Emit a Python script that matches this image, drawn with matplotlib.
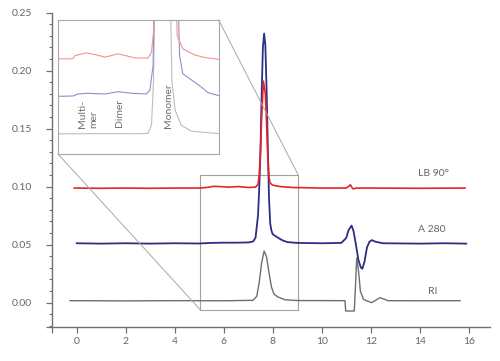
import matplotlib
matplotlib.use("Agg")
import matplotlib.pyplot as plt
from matplotlib.patches import Rectangle, ConnectionPatch

plt.rcParams['font.family'] = ['Lato', 'DejaVu Sans']

# ---- main traces (elution time, signal) ----
lb_x = [-0.1, 1, 2, 3, 4, 5, 5.3, 5.6, 5.9, 6.2, 6.6, 7.0, 7.3, 7.4, 7.45, 7.5, 7.55, 7.62, 7.7,
        7.75, 7.8, 7.85, 7.9, 8.0, 8.3, 8.8, 10, 11.0, 11.1, 11.17, 11.25, 11.3, 11.4, 12, 14, 15.85]
lb_y = [0.0988, 0.0986, 0.0988, 0.0986, 0.0988, 0.0988, 0.0993, 0.1003, 0.1000, 0.0996, 0.1001,
        0.0993, 0.0996, 0.1020, 0.1100, 0.1300, 0.1600, 0.1910, 0.1800, 0.1550, 0.1250, 0.1080,
        0.1030, 0.1013, 0.1001, 0.0993, 0.0988, 0.0988, 0.1003, 0.1016, 0.0988, 0.0980, 0.0988,
        0.0988, 0.0986, 0.0988]

a_x = [0.0, 1.0, 2.0, 3.0, 4.0, 5.0, 5.5, 6.0, 6.5, 7.0, 7.2, 7.3, 7.4, 7.45, 7.5, 7.55, 7.6,
       7.65, 7.7, 7.75, 7.8, 7.85, 7.9, 7.95, 8.0, 8.2, 8.4, 8.6, 9.0, 10.0, 10.8, 11.0, 11.1,
       11.22, 11.3, 11.4, 11.5, 11.6, 11.66, 11.75, 11.85, 11.95, 12.04, 12.2, 12.5, 14, 15, 15.9]
a_y = [0.0512, 0.0509, 0.0512, 0.0509, 0.0512, 0.0510, 0.0515, 0.0517, 0.0517, 0.0519, 0.0527,
       0.0560, 0.0750, 0.0980, 0.1300, 0.1800, 0.2200, 0.2320, 0.2220, 0.1850, 0.1350, 0.0900,
       0.0680, 0.0620, 0.0590, 0.0562, 0.0537, 0.0522, 0.0515, 0.0512, 0.0515, 0.0557, 0.0627,
       0.0664, 0.0617, 0.0497, 0.0367, 0.0302, 0.0292, 0.0357, 0.0477, 0.0525, 0.0539, 0.0525,
       0.0512, 0.0509, 0.0512, 0.0509]

ri_x = [-0.27, 2, 4, 6, 7.2, 7.35, 7.45, 7.55, 7.65, 7.75, 7.85, 7.95, 8.05, 8.2, 8.5, 9, 10.95,
        10.98, 11.33, 11.37, 11.43, 11.5, 11.58, 11.7, 11.85, 12.04, 12.2, 12.38, 12.55, 12.7, 14, 15.65]
ri_y = [0.0017, 0.0015, 0.0017, 0.0016, 0.0020, 0.0055, 0.0175, 0.0345, 0.0445, 0.0395, 0.0255,
        0.0135, 0.0075, 0.0050, 0.0025, 0.0018, 0.0017, -0.0072, -0.0072, 0.0100, 0.0385, 0.0280,
        0.0100, 0.0030, 0.0015, 0.0000, 0.0020, 0.0043, 0.0030, 0.0017, 0.0016, 0.0017]

trace_labels = ['LB 90°', 'A 280', 'RI']
label_pos_x = [13.93, 13.93, 14.35]
label_pos_y = [0.111, 0.063, 0.0095]

# ---- inset (magnified, relative units) ----
in_lb_x = [5.05, 5.42, 5.47, 5.76, 6.01, 6.22, 6.55, 6.96, 7.29, 7.38, 7.43, 7.47, 7.97, 8.02,
           8.16, 8.45, 8.70, 9.05]
in_lb_y = [0.709, 0.709, 0.733, 0.753, 0.738, 0.721, 0.746, 0.716, 0.714, 0.758, 0.906, 1.5,
           1.5, 0.880, 0.783, 0.738, 0.719, 0.705]
in_a_x = [5.05, 5.18, 5.43, 5.55, 5.80, 6.22, 6.55, 6.88, 7.25, 7.34, 7.42, 7.47, 8.02, 8.08,
          8.16, 8.37, 8.62, 8.79, 9.05]
in_a_y = [0.430, 0.430, 0.432, 0.447, 0.452, 0.447, 0.464, 0.452, 0.447, 0.474, 0.659, 1.5,
          1.5, 0.733, 0.598, 0.553, 0.499, 0.457, 0.435]
in_ri_x = [5.05, 6.0, 7.0, 7.29, 7.38, 7.43, 7.48, 7.83, 7.89, 7.97, 8.12, 8.37, 9.05]
in_ri_y = [0.150, 0.152, 0.151, 0.153, 0.215, 0.536, 1.5, 1.5, 0.536, 0.326, 0.215, 0.170, 0.152]

inset_labels = ['Multi-\nmer', 'Dimer', 'Monomer']
inset_lab_x = [5.80, 6.59, 7.81]
inset_lab_y = [0.19, 0.20, 0.19]

zoom_x = (5.05, 9.05)
zoom_y = (-0.0063, 0.1098)

# ---- figure ----
fig = plt.figure(figsize=(5.0, 3.61), dpi=100)
ax = fig.add_axes([0.1044, 0.0942, 0.8756, 0.8706])

c_red, c_blue, c_gray = '#e3262b', '#2e2d86', '#6e6e6e'
ax.plot(ri_x, ri_y, color=c_gray, lw=1.0)
ax.plot(a_x, a_y, color=c_blue, lw=1.3)
ax.plot(lb_x, lb_y, color=c_red, lw=1.2)

for t, x, y in zip(trace_labels, label_pos_x, label_pos_y):
    ax.text(x, y, t, color='#666666', fontsize=7.5, ha='left', va='center')

ax.set_xlim(-1, 16.87)
ax.set_ylim(-0.021, 0.25)
ax.set_xticks([-1] + list(range(0, 17, 2)))
ax.set_xticklabels([''] + [str(v) for v in range(0, 17, 2)])
yt = [-0.021, 0.0, 0.05, 0.10, 0.15, 0.20, 0.25]
ax.set_yticks(yt)
ax.set_yticklabels([''] + ['%.2f' % v for v in yt[1:]])
ax.set_yticks([v / 100 for v in range(-2, 25) if v % 5 != 0], minor=True)
for s in ['top', 'right']:
    ax.spines[s].set_visible(False)
for s in ['left', 'bottom']:
    ax.spines[s].set_color('#707070')
    ax.spines[s].set_linewidth(1.0)
ax.tick_params(axis='x', which='major', direction='out', length=4.5, width=0.9,
               color='#707070', labelcolor='#666666', labelsize=7.5, pad=3)
ax.tick_params(axis='y', which='major', direction='out', length=4.5, width=0.9,
               color='#707070', labelcolor='#666666', labelsize=7.5, pad=10)
ax.tick_params(axis='y', which='minor', direction='out', length=2.5, width=0.8, color='#707070')

# zoom rectangle
rect = Rectangle((zoom_x[0], zoom_y[0]), zoom_x[1] - zoom_x[0], zoom_y[1] - zoom_y[0],
                 fill=False, edgecolor='#a0a0a0', lw=0.8)
ax.add_patch(rect)

# inset
axi = fig.add_axes([0.116, 0.5734, 0.321, 0.3720])
axi.plot(in_ri_x, in_ri_y, color='#bdbdbd', lw=0.8)
axi.plot(in_a_x, in_a_y, color='#8f8fcc', lw=0.8)
axi.plot(in_lb_x, in_lb_y, color='#f29393', lw=0.8)
axi.set_xlim(*zoom_x)
axi.set_ylim(0, 1)
axi.set_xticks([])
axi.set_yticks([])
for s in axi.spines.values():
    s.set_color('#a8a8a8')
    s.set_linewidth(0.8)
for t, x, y in zip(inset_labels, inset_lab_x, inset_lab_y):
    axi.text(x, y, t, rotation=90, color='#707070', fontsize=7.5, ha='center', va='bottom',
             multialignment='left', linespacing=1.3)

for (xa, ya), (xb, yb) in [((1, 1), (zoom_x[1], zoom_y[1])), ((0, 0), (zoom_x[0], zoom_y[0]))]:
    con = ConnectionPatch(xyA=(xa, ya), coordsA=axi.transAxes, xyB=(xb, yb), coordsB=ax.transData,
                          color='#a8a8a8', lw=0.7)
    fig.add_artist(con)

fig.savefig('out.png', dpi=100)
